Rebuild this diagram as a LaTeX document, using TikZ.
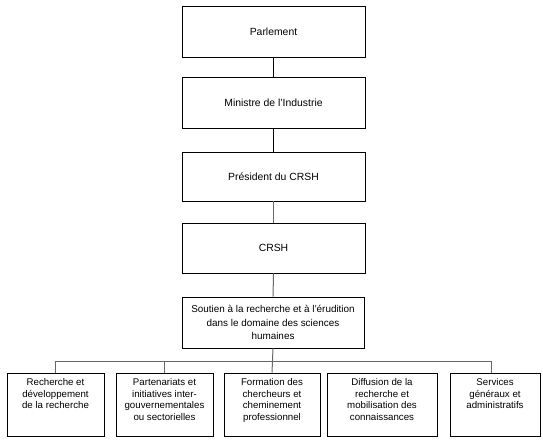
\documentclass[tikz,border=0pt]{standalone}
\usepackage{fontspec}
\setmainfont{Liberation Sans}
\begin{document}
\begin{tikzpicture}[x=1pt,y=-1pt,
  topbox/.style={draw, line width=0.9pt, minimum width=183pt, minimum height=#1, font=\fontsize{10.4}{12}\selectfont},
  midbox/.style={draw, line width=0.9pt, minimum width=182pt, minimum height=51pt, align=center, font=\fontsize{9.9}{13.3}\selectfont},
  unitbox/.style={draw, line width=0.9pt, minimum width=#1, minimum height=63pt},
  unittext/.style={anchor=north, align=center, inner sep=2pt, yshift=-4pt, font=\fontsize{9.7}{11.5}\selectfont},
  link/.style={line width=0.9pt},
  glink/.style={line width=1pt, draw=black!60}]
  \useasboundingbox (0,0) rectangle (543,442);
  % Chain of command
  \node[topbox=51pt] (parl) at (273.5,31.5) {Parlement};
  \node[topbox=51pt] (min) at (273.5,102.5) {Ministre de l'Industrie};
  \node[topbox=49pt] (pres) at (273.5,176.5) {Président du CRSH};
  \node[topbox=50pt] (crsh) at (273.5,248) {CRSH};
  \node[midbox] (sout) at (273,322.5) {Soutien à la recherche et à l'érudition\\dans le domaine des sciences\\humaines};
  \draw[link] (parl) -- (min);
  \draw[link] (min) -- (pres);
  \draw[glink] (pres) -- (crsh);
  \draw[glink] (crsh) -- (sout);

  % Programme activities
  \foreach \x/\w/\name/\txt in {
    55.5/97/b1/{Recherche et\\développement\\de la recherche},
    164.5/97/b2/{Partenariats et\\initiatives inter-\\gouvernementales\\ou sectorielles},
    272/96/b3/{Formation des\\chercheurs et\\cheminement\\professionnel},
    382/110/b4/{Diffusion de la\\recherche et\\mobilisation des\\connaissances},
    495/90/b5/{Services\\généraux et\\administratifs}} {
    \node[unitbox=\w pt] (\name) at (\x,404.5) {};
    \node[unittext] (\name t) at (\name.north) {\txt};
  }

  % Bus
  \coordinate (busL) at (55.5,361);
  \coordinate (busR) at (491,361);
  \draw[glink] (busL) -- (busR);
  \draw[glink] (sout.south) -- (b3.north);
  \draw[glink] (busL) -- (b1.north);
  \draw[glink] (b2.north |- busL) -- (b2.north);
  \draw[glink] (busR) -- (busR |- b5.north);
\end{tikzpicture}
\end{document}
